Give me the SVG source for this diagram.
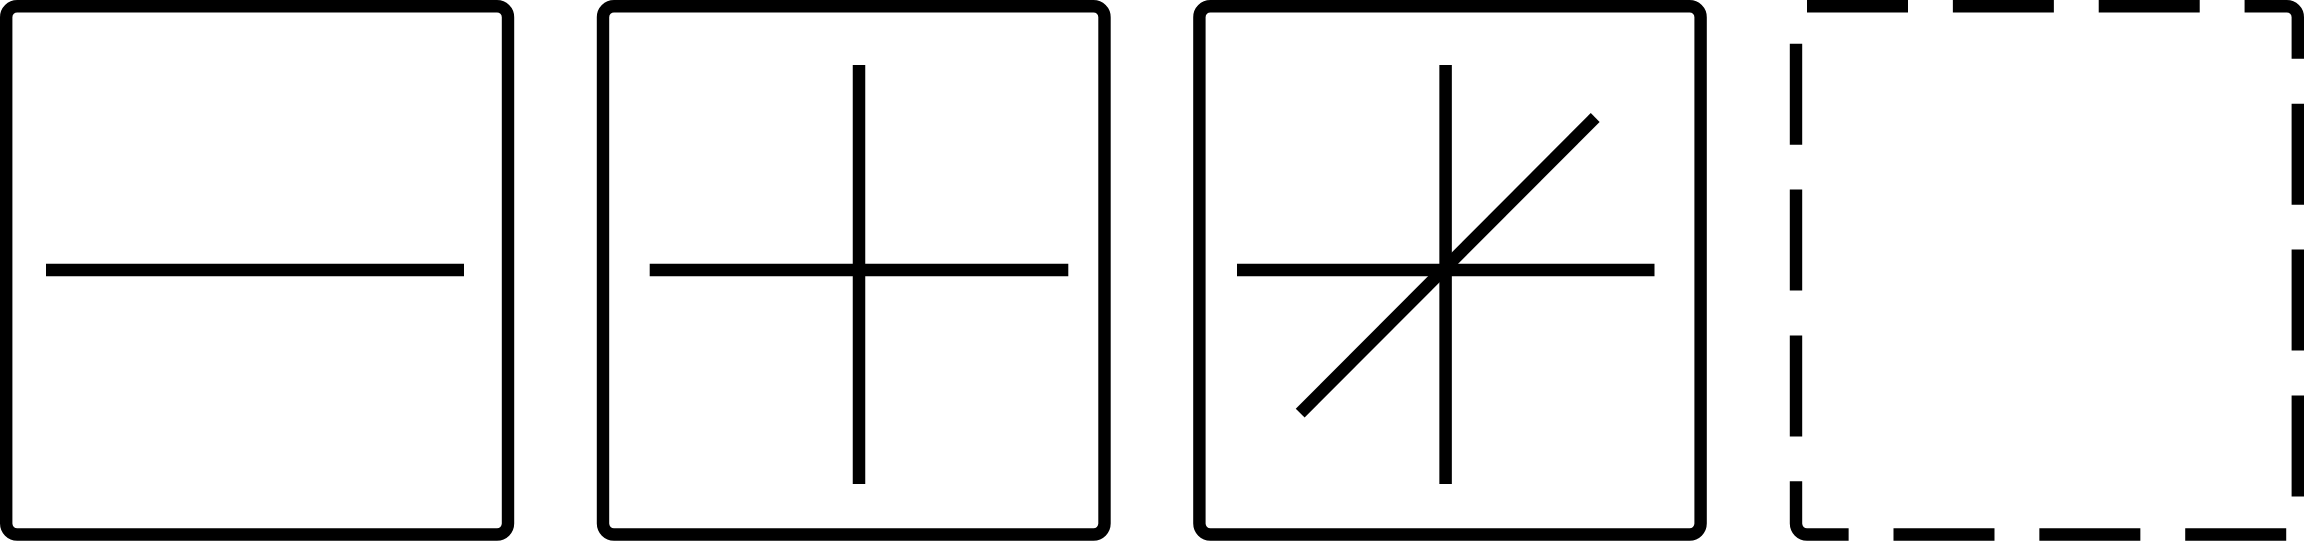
<svg xmlns="http://www.w3.org/2000/svg" width="2304" height="541" viewBox="0 0 2304 541">
  <style>
    .frame { fill: #ffffff; stroke: #000000; stroke-width: 12.4; }
    .dashed { stroke-dasharray: 101 44.86; }
    .mark { fill: none; stroke: #000000; stroke-width: 12.5; stroke-linecap: butt; }
  </style>
  <rect x="0" y="0" width="2304" height="541" fill="#ffffff"/>
  <g id="node-minus">
    <rect class="frame" x="6.2" y="6.2" width="501.8" height="528.3" rx="11" ry="11"/>
    <line class="mark" x1="46" y1="270" x2="464" y2="270"/>
  </g>
  <g id="node-plus">
    <rect class="frame" x="603" y="6.2" width="501.5" height="528.3" rx="11" ry="11"/>
    <line class="mark" x1="649.7" y1="270" x2="1068.3" y2="270"/>
    <line class="mark" x1="859" y1="65" x2="859" y2="484"/>
  </g>
  <g id="node-asterisk">
    <rect class="frame" x="1199.4" y="6.2" width="501.2" height="528.3" rx="11" ry="11"/>
    <line class="mark" x1="1237" y1="270" x2="1654.5" y2="270"/>
    <line class="mark" x1="1445.6" y1="65" x2="1445.6" y2="484"/>
    <line class="mark" x1="1300.2" y1="413.2" x2="1595.2" y2="117.5"/>
  </g>
  <g id="node-empty">
    <rect class="frame dashed" x="1796" y="6.2" width="501.8" height="528.3" rx="11" ry="11"/>
  </g>
  <g id="connectors"></g>
</svg>
